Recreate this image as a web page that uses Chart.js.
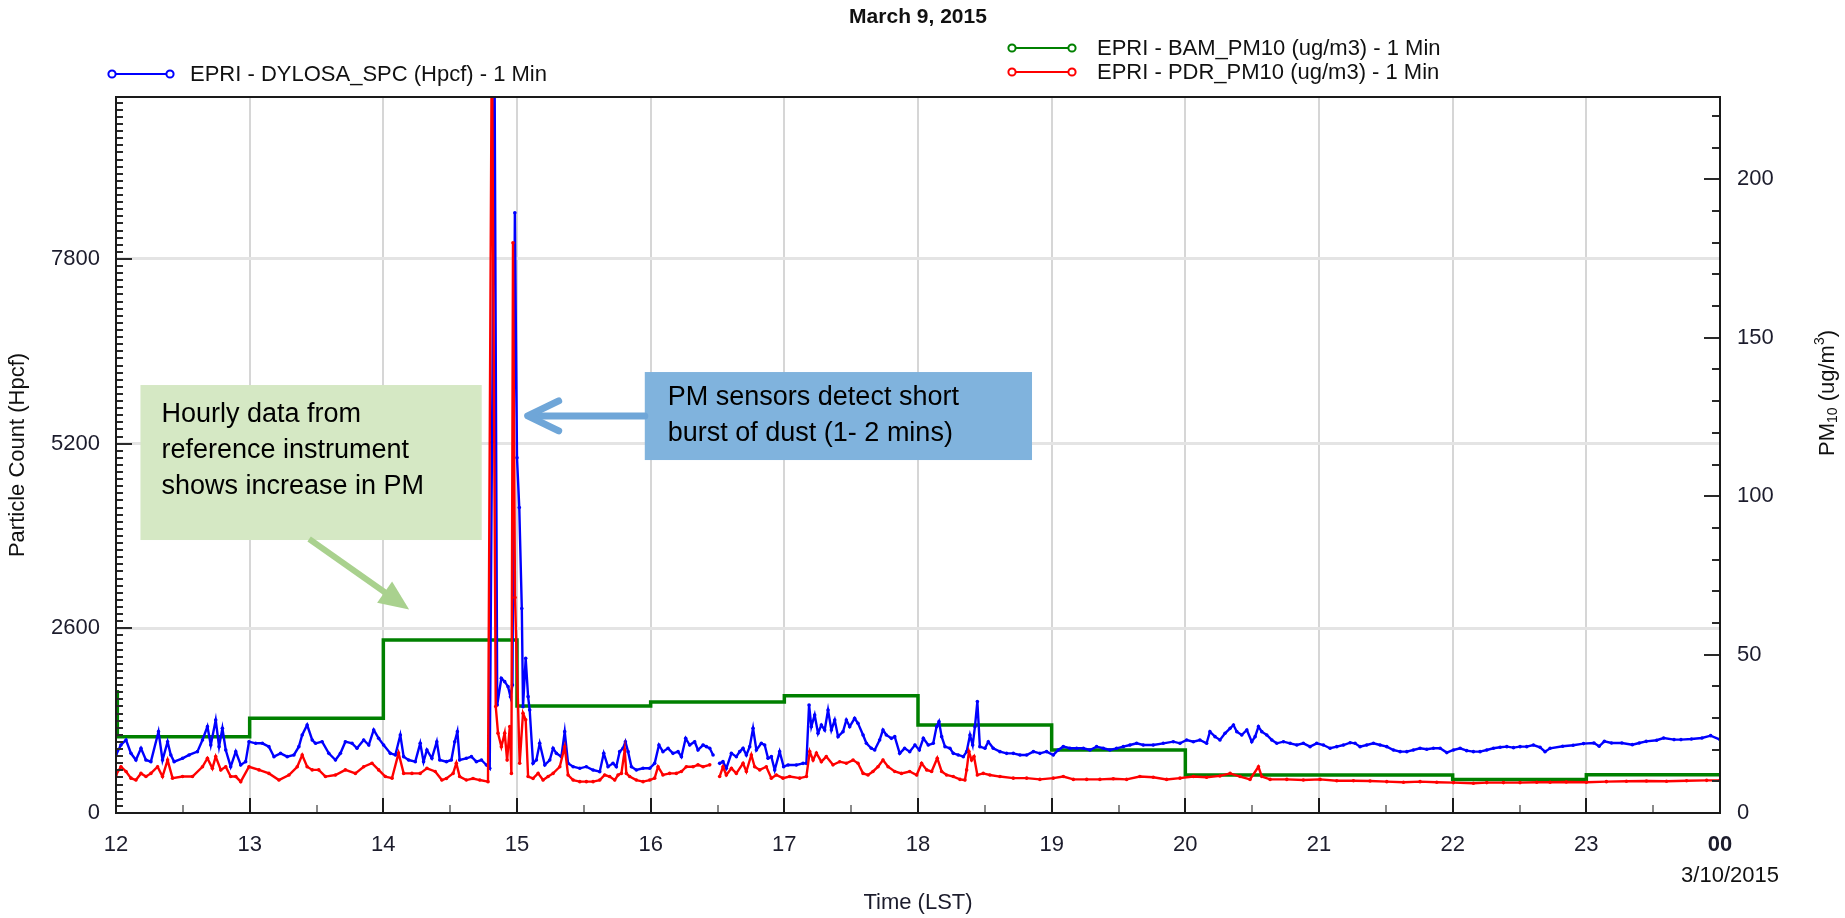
<!DOCTYPE html>
<html lang="en">
<head>
<meta charset="UTF-8">
<title>March 9, 2015 | EPRI PM sensors</title>
<script src="https://cdn.jsdelivr.net/npm/chart.js"></script>
<style>
    body { margin: 0; background: #fff; }
    #wrap { width: 1845px; height: 918px; }
</style>
</head>
<body>
<div id="wrap"><canvas id="pmChart" width="1845" height="918"></canvas></div>
<script>
const FONT = '"Liberation Sans", Arial, sans-serif';

// x axis: hours of the day (24 = midnight of 3/10)
const hourTicks = [12, 13, 14, 15, 16, 17, 18, 19, 20, 21, 22, 23, 24];
const hourLabels = ['12', '13', '14', '15', '16', '17', '18', '19', '20', '21', '22', '23', '00'];
const leftTicks = [0, 2600, 5200, 7800];
const rightTicks = [0, 50, 100, 150, 200];

// EPRI - DYLOSA_SPC (Hpcf), left axis
const dylosHours = [
    12.000, 12.037, 12.075, 12.112, 12.149, 12.187, 12.224, 12.261, 12.318, 12.348, 12.386, 12.410, 12.435, 12.498, 12.547, 12.609, 12.647, 12.684, 12.709, 12.746, 12.771, 12.796, 12.821, 12.858, 12.896, 12.933, 12.970, 12.995,
    13.045, 13.095, 13.144, 13.182, 13.231, 13.281, 13.331, 13.368, 13.393, 13.430, 13.468, 13.493, 13.542, 13.592, 13.642, 13.679, 13.716, 13.766, 13.803, 13.853, 13.891, 13.928, 13.965,
    14.002, 14.052, 14.090, 14.127, 14.152, 14.189, 14.239, 14.276, 14.301, 14.326, 14.363, 14.400, 14.422, 14.472, 14.509, 14.534, 14.554, 14.571, 14.621, 14.659, 14.696, 14.734, 14.771, 14.796, 14.813, 14.832, 14.852, 14.883, 14.908, 14.933, 14.951, 14.966, 14.984,
    15.000, 15.017, 15.036, 15.045, 15.065, 15.083, 15.095, 15.120, 15.145, 15.170, 15.208, 15.245, 15.270, 15.295, 15.332, 15.357, 15.382, 15.420, 15.470, 15.519, 15.569, 15.619, 15.649, 15.681, 15.718, 15.743, 15.768, 15.793, 15.811, 15.831, 15.856, 15.893, 15.943, 15.993,
    16.030, 16.062, 16.092, 16.130, 16.167, 16.205, 16.230, 16.262, 16.292, 16.329, 16.354, 16.392, 16.417, 16.442, 16.467, 16.490, 16.516, 16.541, 16.566, 16.604, 16.641, 16.666, 16.691, 16.716, 16.741, 16.766, 16.791, 16.828, 16.853, 16.878, 16.903, 16.928, 16.965, 16.995,
    17.028, 17.090, 17.140, 17.165, 17.185, 17.202, 17.227, 17.252, 17.277, 17.302, 17.327, 17.352, 17.377, 17.402, 17.439, 17.464, 17.489, 17.526, 17.551, 17.589, 17.614, 17.651, 17.676, 17.713, 17.738, 17.763, 17.801, 17.826, 17.863, 17.900, 17.938, 17.977,
    18.010, 18.040, 18.077, 18.114, 18.139, 18.157, 18.177, 18.202, 18.239, 18.264, 18.301, 18.339, 18.364, 18.389, 18.409, 18.426, 18.444, 18.463, 18.501, 18.526, 18.563, 18.613, 18.663, 18.713, 18.763, 18.813, 18.863, 18.912, 18.962,
    19.012, 19.049, 19.087, 19.137, 19.187, 19.237, 19.286, 19.336, 19.386, 19.436, 19.486, 19.536, 19.586, 19.636, 19.685, 19.760, 19.835, 19.910, 19.960,
    20.010, 20.060, 20.109, 20.159, 20.184, 20.222, 20.259, 20.297, 20.335, 20.360, 20.385, 20.422, 20.460, 20.497, 20.522, 20.547, 20.572, 20.609, 20.647, 20.684, 20.734, 20.784, 20.834, 20.883, 20.933, 20.983,
    21.033, 21.083, 21.133, 21.183, 21.233, 21.270, 21.307, 21.357, 21.407, 21.457, 21.507, 21.557, 21.607, 21.657, 21.706, 21.756, 21.806, 21.856, 21.906, 21.956,
    22.006, 22.056, 22.105, 22.155, 22.205, 22.255, 22.305, 22.355, 22.405, 22.455, 22.504, 22.554, 22.604, 22.654, 22.691, 22.729, 22.823, 22.901, 22.979,
    23.057, 23.096, 23.135, 23.188, 23.266, 23.344, 23.396, 23.448, 23.526, 23.578, 23.656, 23.708, 23.786, 23.865, 23.930, 24.000
];
const dylosHpcf = [
    817, 957, 1028, 840, 746, 911, 746, 723, 1145, 746, 1004, 817, 723, 770, 817, 864, 1028, 1216, 957, 1309, 934, 1192, 887, 652, 864, 676, 723, 1004,
    981, 981, 934, 793, 840, 793, 817, 934, 1098, 1239, 1028, 981, 1004, 840, 746, 840, 1004, 981, 911, 1028, 957, 1169, 1051,
    957, 840, 817, 1098, 793, 746, 723, 981, 723, 887, 770, 1004, 746, 723, 746, 1004, 1145, 746, 770, 793, 723, 746, 676, 629, 5220, 10600, 1521, 1896, 1849, 1779, 1638, 1802, 8450,
    5000, 4300, 2880, 1497, 2178, 1638, 1450, 699, 746, 981, 676, 746, 911, 840, 793, 1145, 699, 652, 629, 652, 605, 582, 840, 652, 699, 652, 864, 911, 1004, 864, 652, 605, 629, 629,
    699, 957, 864, 911, 840, 864, 793, 1051, 957, 1004, 887, 957, 934, 911, 817, null, 699, 723, 629, 840, 793, 864, 911, 817, 934, 1192, 887, 981, 957, 770, 793, 605, 864, 652,
    676, 676, 699, 699, 1521, 1216, 1380, 1122, 1239, 1169, 1450, 1169, 1309, 1075, 1145, 1309, 1216, 1333, 1263, 1098, 981, 911, 887, 1028, 1169, 1098, 1051, 1075, 840, 911, 864, 957,
    887, 1051, 957, 981, 1216, 1286, 1075, 934, 911, 840, 817, 793, 864, 1098, 957, 1216, 1568, 934, 911, 1004, 911, 864, 840, 840, 817, 817, 864, 840, 864,
    817, 887, 934, 911, 911, 911, 887, 934, 911, 887, 911, 934, 957, 981, 957, 957, 981, 1004, 981,
    1028, 1004, 1028, 981, 1145, 1075, 1028, 1122, 1192, 1239, 1145, 1098, 1169, 1004, 1075, 1216, 1145, 1098, 1028, 981, 1004, 981, 957, 981, 934, 981,
    957, 911, 934, 957, 990, 981, 934, 957, 981, 957, 934, 887, 864, 864, 887, 911, 897, 911, 911, 850,
    887, 911, 878, 864, 864, 887, 911, 925, 934, 920, 934, 934, 957, 925, 864, 911, 939, 953, 977,
    986, 939, 1009, 986, 986, 962, 986, 1009, 1024, 1056, 1033, 1033, 1042, 1056, 1089, 1033
];

// EPRI - PDR_PM10 (ug/m3), right axis
const pdrHours = [
    12.000, 12.037, 12.075, 12.112, 12.149, 12.187, 12.224, 12.261, 12.311, 12.348, 12.386, 12.423, 12.498, 12.572, 12.647, 12.684, 12.721, 12.746, 12.784, 12.821, 12.858, 12.896, 12.933, 12.995,
    13.070, 13.144, 13.219, 13.294, 13.356, 13.393, 13.430, 13.468, 13.517, 13.567, 13.642, 13.716, 13.791, 13.853, 13.915, 13.965,
    14.015, 14.065, 14.114, 14.152, 14.214, 14.276, 14.326, 14.388, 14.438, 14.472, 14.522, 14.546, 14.571, 14.621, 14.671, 14.721, 14.783, 14.812, 14.841, 14.858, 14.883, 14.908, 14.926, 14.946, 14.958, 14.970, 14.985,
    15.020, 15.045, 15.065, 15.083, 15.120, 15.158, 15.195, 15.233, 15.270, 15.320, 15.357, 15.382, 15.420, 15.470, 15.519, 15.569, 15.619, 15.656, 15.693, 15.731, 15.756, 15.781, 15.806, 15.818, 15.843, 15.893, 15.943, 15.993,
    16.030, 16.055, 16.092, 16.142, 16.192, 16.230, 16.267, 16.317, 16.354, 16.392, 16.442, 16.480, 16.516, 16.541, 16.566, 16.604, 16.641, 16.691, 16.716, 16.753, 16.778, 16.816, 16.865, 16.903, 16.940, 16.990,
    17.040, 17.115, 17.165, 17.190, 17.215, 17.240, 17.277, 17.314, 17.364, 17.414, 17.464, 17.514, 17.551, 17.589, 17.626, 17.663, 17.701, 17.738, 17.776, 17.826, 17.876, 17.938, 17.990,
    18.027, 18.065, 18.102, 18.144, 18.177, 18.214, 18.264, 18.314, 18.351, 18.364, 18.381, 18.401, 18.419, 18.444, 18.488, 18.538, 18.613, 18.713, 18.813, 18.912,
    19.012, 19.087, 19.162, 19.262, 19.361, 19.461, 19.561, 19.660, 19.760, 19.860, 19.960,
    20.060, 20.159, 20.259, 20.335, 20.410, 20.484, 20.547, 20.572, 20.634, 20.759, 20.883,
    21.008, 21.133, 21.258, 21.382, 21.507, 21.632, 21.756, 21.881,
    22.006, 22.155, 22.255, 22.380, 22.504, 22.629, 22.729, 22.850,
    23.000, 23.150, 23.300, 23.450, 23.600, 23.750, 23.900, 24.000
];
const pdrPM10 = [
    12.0, 14.6, 13.1, 11.0, 10.4, 12.5, 11.5, 12.5, 14.6, 11.5, 16.7, 11.0, 11.5, 11.5, 14.6, 17.3, 14.1, 17.8, 13.6, 14.6, 11.5, 11.5, 9.9, 14.6,
    13.6, 12.5, 10.4, 12.0, 14.6, 18.3, 14.6, 13.6, 13.6, 11.5, 12.0, 13.6, 12.5, 14.6, 15.7, 13.6,
    11.5, 11.0, 18.9, 12.5, 12.5, 12.5, 14.1, 13.1, 10.4, 10.9, 12.5, 15.7, 11.5, 10.4, 10.9, 10.4, 9.9, 250, 33.6, 25.2, 20.9, 25.2, 16.7, 27.3, 12.5, 180, 68,
    15.7, 31.5, 29.4, 11.5, 10.9, 12.5, 10.4, 11.5, 12.5, 14.6, 20.9, 12.0, 10.4, 9.9, 9.9, 9.9, 10.4, 12.0, 11.5, 10.4, 12.0, 12.5, 19.9, 12.5, 11.5, 10.4, 9.9, 10.4,
    11.0, 14.6, 12.0, 12.5, 12.5, 13.1, 14.6, 14.6, 15.2, 14.6, 15.2, null, 11.5, 14.6, 12.0, 14.1, 12.5, 15.7, 13.1, 18.3, 14.6, 13.6, 14.6, 11.0, 12.0, 11.0,
    11.5, 11.0, 11.5, 19.4, 16.7, 18.9, 16.2, 17.8, 15.2, 16.2, 15.7, 16.7, 15.7, 12.5, 12.0, 13.1, 14.6, 16.7, 14.6, 13.1, 12.5, 13.1, 12.0,
    15.7, 13.6, 13.1, 17.3, 13.1, 12.0, 11.5, 10.6, 10.4, 13.6, 19.4, 16.7, 17.8, 12.0, 12.5, 12.0, 11.5, 11.0, 11.0, 10.6,
    11.0, 11.5, 10.6, 10.6, 10.6, 10.8, 10.6, 11.5, 11.3, 10.6, 11.0,
    11.5, 11.3, 11.7, 12.5, 11.5, 10.6, 14.6, 11.5, 10.6, 10.6, 10.4,
    10.6, 10.2, 10.2, 10.1, 9.9, 9.7, 9.9, 9.7,
    9.6, 9.4, 9.6, 9.6, 9.6, 9.7, 9.7, 9.8,
    9.7, 9.9, 10.0, 10.1, 10.0, 10.2, 10.3, 10.3
];

// EPRI - BAM_PM10 (ug/m3), hourly reference, right axis
const bamHours = [12.0, 12.01, 13, 14, 15, 16, 17, 18, 19, 20, 21, 22, 23, 24];
const bamPM10 = [38.3, 24.1, 29.9, 54.6, 33.8, 35.0, 37.0, 27.8, 19.9, 12.0, 12.0, 10.6, 12.1, 12.1];

// callouts, placed in data units (hours, Hpcf)
const noteGreen = { x0: 12.183, x1: 14.736, top: 6025, bottom: 3843,
    lines: ['Hourly data from', 'reference instrument', 'shows increase in PM'],
    arrowFrom: [13.445, 3857], arrowTo: [14.193, 2865] };
const noteBlue = { x0: 15.956, x1: 18.853, top: 6208, bottom: 4969,
    lines: ['PM sensors detect short', 'burst of dust (1- 2 mins)'],
    arrowTo: [15.065, 5590] };

const leftMinorStep = 100, leftMajorStep = 2600;
const rightMinorStep = 10, rightMajorStep = 50;
const hourMinorStep = 0.5;

function pairs(xs, ys) {
    return xs.map((h, i) => ({ x: h, y: ys[i] }));
}

function line(ctx, x0, y0, x1, y1) {
    ctx.beginPath();
    ctx.moveTo(x0, y0);
    ctx.lineTo(x1, y1);
    ctx.stroke();
}

function legendKey(ctx, x0, x1, y, color) {
    ctx.strokeStyle = color;
    ctx.lineWidth = 2;
    line(ctx, x0 + 4, y, x1 - 4, y);
    [x0, x1].forEach(cx => {
        ctx.beginPath();
        ctx.arc(cx, y, 3.6, 0, Math.PI * 2);
        ctx.fillStyle = '#fff';
        ctx.fill();
        ctx.stroke();
    });
}

// frame and inward tick marks
const frame = {
    id: 'frame',
    afterDatasetsDraw(chart) {
        const { ctx, chartArea: a } = chart;
        const { x, y, y1 } = chart.scales;
        ctx.save();
        ctx.lineWidth = 2;
        ctx.strokeStyle = '#2a2a2a';
        for (let v = leftMinorStep; v < y.max; v += leftMinorStep) {
            const py = Math.round(y.getPixelForValue(v));
            line(ctx, a.left, py, a.left + (v % leftMajorStep === 0 ? 16 : 7), py);
        }
        for (let v = rightMinorStep; v < y1.max; v += rightMinorStep) {
            const py = Math.round(y1.getPixelForValue(v));
            line(ctx, a.right, py, a.right - (v % rightMajorStep === 0 ? 16 : 8), py);
        }
        for (let h = 12 + hourMinorStep; h < 24; h += hourMinorStep) {
            const px = Math.round(x.getPixelForValue(h));
            const major = Number.isInteger(h);
            ctx.strokeStyle = major ? '#1a1a1a' : '#8a8a8a';
            line(ctx, px, a.bottom, px, a.bottom - (major ? 15 : 8));
        }
        ctx.strokeStyle = '#1a1a1a';
        ctx.strokeRect(a.left, a.top, a.right - a.left, a.bottom - a.top);
        ctx.restore();
    }
};

// title, legend, right axis title, date and the two callouts
const extras = {
    id: 'extras',
    afterDraw(chart) {
        const { ctx, chartArea: a } = chart;
        const { x, y } = chart.scales;
        ctx.save();
        ctx.fillStyle = '#111';
        ctx.textBaseline = 'middle';

        ctx.textAlign = 'center';
        ctx.font = 'bold 21px ' + FONT;
        ctx.fillText('March 9, 2015', (a.left + a.right) / 2, 17);

        ctx.textAlign = 'left';
        ctx.font = '22px ' + FONT;
        const ds = chart.data.datasets;
        legendKey(ctx, 112, 170, 74, ds[0].borderColor);
        ctx.fillStyle = '#111';
        ctx.fillText(ds[0].label, 190, 75);
        legendKey(ctx, 1012, 1072, 48, ds[2].borderColor);
        legendKey(ctx, 1012, 1072, 72, ds[1].borderColor);
        ctx.fillStyle = '#111';
        ctx.fillText(ds[2].label, 1097, 49);
        ctx.fillText(ds[1].label, 1097, 73);

        // date under the last hour label
        ctx.textAlign = 'center';
        ctx.font = '22px ' + FONT;
        ctx.fillText('3/10/2015', x.getPixelForValue(24) + 10, 876);

        // right axis title with sub/superscript
        const parts = [['PM', 22, 0], ['10', 14, 5], [' (ug/m', 22, 0], ['3', 14, -8], [')', 22, 0]];
        let total = 0;
        parts.forEach(p => { ctx.font = p[1] + 'px ' + FONT; total += ctx.measureText(p[0]).width; });
        ctx.translate(1828, 393);
        ctx.rotate(-Math.PI / 2);
        ctx.textAlign = 'left';
        let cx = -total / 2;
        parts.forEach(p => {
            ctx.font = p[1] + 'px ' + FONT;
            ctx.fillText(p[0], cx, p[2]);
            cx += ctx.measureText(p[0]).width;
        });
        ctx.setTransform(1, 0, 0, 1, 0, 0);

        // green callout
        const g = noteGreen;
        const gx0 = x.getPixelForValue(g.x0), gx1 = x.getPixelForValue(g.x1);
        const gy0 = y.getPixelForValue(g.top), gy1 = y.getPixelForValue(g.bottom);
        ctx.fillStyle = '#d5e8c4';
        ctx.fillRect(gx0, gy0, gx1 - gx0, gy1 - gy0);
        ctx.fillStyle = '#000';
        ctx.font = '27px ' + FONT;
        ctx.textAlign = 'left';
        g.lines.forEach((t, i) => ctx.fillText(t, gx0 + 21, gy0 + 30 + i * 36));

        const ax0 = x.getPixelForValue(g.arrowFrom[0]), ay0 = y.getPixelForValue(g.arrowFrom[1]);
        const ax1 = x.getPixelForValue(g.arrowTo[0]), ay1 = y.getPixelForValue(g.arrowTo[1]);
        const ang = Math.atan2(ay1 - ay0, ax1 - ax0);
        ctx.strokeStyle = '#a9d18e';
        ctx.fillStyle = '#a9d18e';
        ctx.lineWidth = 6;
        line(ctx, ax0, ay0, ax1 - 22 * Math.cos(ang), ay1 - 22 * Math.sin(ang));
        ctx.beginPath();
        ctx.moveTo(ax1, ay1);
        ctx.lineTo(ax1 - 30 * Math.cos(ang) + 13 * Math.sin(ang), ay1 - 30 * Math.sin(ang) - 13 * Math.cos(ang));
        ctx.lineTo(ax1 - 30 * Math.cos(ang) - 13 * Math.sin(ang), ay1 - 30 * Math.sin(ang) + 13 * Math.cos(ang));
        ctx.closePath();
        ctx.fill();

        // blue callout
        const b = noteBlue;
        const bx0 = x.getPixelForValue(b.x0), bx1 = x.getPixelForValue(b.x1);
        const by0 = y.getPixelForValue(b.top), by1 = y.getPixelForValue(b.bottom);
        ctx.fillStyle = '#80b3dd';
        ctx.fillRect(bx0, by0, bx1 - bx0, by1 - by0);
        ctx.fillStyle = '#000';
        b.lines.forEach((t, i) => ctx.fillText(t, bx0 + 23, by0 + 26 + i * 36));

        const tx = x.getPixelForValue(b.arrowTo[0]), ty = y.getPixelForValue(b.arrowTo[1]);
        ctx.strokeStyle = '#6fa6d8';
        ctx.lineWidth = 7;
        ctx.lineCap = 'round';
        ctx.lineJoin = 'round';
        line(ctx, bx0, ty, tx + 4, ty);
        ctx.beginPath();
        ctx.moveTo(tx + 33, ty - 15);
        ctx.lineTo(tx + 2, ty);
        ctx.lineTo(tx + 33, ty + 15);
        ctx.stroke();
        ctx.restore();
    }
};

const tickFont = { family: FONT, size: 22 };

const ctx = document.getElementById('pmChart').getContext('2d');
const chart = new Chart(ctx, {
    type: 'line',
    data: {
        datasets: [
            {
                label: 'EPRI - DYLOSA_SPC (Hpcf) - 1 Min',
                data: pairs(dylosHours, dylosHpcf),
                yAxisID: 'y',
                borderColor: '#0000ff',
                backgroundColor: '#0000ff',
                borderWidth: 2.4,
                pointRadius: 1.8,
                pointBorderWidth: 0,
                spanGaps: false,
                order: 1
            },
            {
                label: 'EPRI - PDR_PM10 (ug/m3) - 1 Min',
                data: pairs(pdrHours, pdrPM10),
                yAxisID: 'y1',
                borderColor: '#ff0000',
                backgroundColor: '#ff0000',
                borderWidth: 2.4,
                pointRadius: 1.8,
                pointBorderWidth: 0,
                spanGaps: false,
                order: 0
            },
            {
                label: 'EPRI - BAM_PM10 (ug/m3) - 1 Min',
                data: pairs(bamHours, bamPM10),
                yAxisID: 'y1',
                borderColor: '#008000',
                backgroundColor: '#008000',
                borderWidth: 3.5,
                pointRadius: 0,
                stepped: true,
                order: 2
            }
        ]
    },
    options: {
        responsive: false,
        animation: false,
        devicePixelRatio: 1,
        layout: { padding: { top: 97, left: 0, right: 0, bottom: 0 } },
        plugins: { legend: { display: false }, title: { display: false }, tooltip: { enabled: false } },
        scales: {
            x: {
                type: 'linear',
                min: 12,
                max: 24,
                afterBuildTicks: s => { s.ticks = hourTicks.map(v => ({ value: v })); },
                afterFit: s => { s.height = 105; },
                ticks: {
                    autoSkip: false,
                    maxRotation: 0,
                    padding: 19,
                    color: '#1c1c2c',
                    font: c => ({ family: FONT, size: 22, weight: c.tick && c.tick.value === 24 ? 'bold' : 'normal' }),
                    callback: v => hourLabels[hourTicks.indexOf(v)]
                },
                grid: { color: '#d6d6d6', lineWidth: 2, drawTicks: false },
                border: { display: false },
                title: { display: true, text: 'Time (LST)', color: '#1c1c2c', font: tickFont, padding: { top: 0, bottom: 2 } }
            },
            y: {
                position: 'left',
                min: 0,
                max: 10080,
                afterBuildTicks: s => { s.ticks = leftTicks.map(v => ({ value: v })); },
                afterFit: s => { s.width = 116; },
                ticks: { padding: 16, color: '#1c1c2c', font: tickFont, callback: v => String(v) },
                grid: {
                    color: c => (c.tick && c.tick.value === 0 ? 'rgba(0,0,0,0)' : '#e4e4e4'),
                    lineWidth: 3,
                    drawTicks: false
                },
                border: { display: false },
                title: { display: true, text: 'Particle Count (Hpcf)', color: '#111', font: tickFont, padding: { top: 5, bottom: 0 } }
            },
            y1: {
                position: 'right',
                min: 0,
                max: 226,
                afterBuildTicks: s => { s.ticks = rightTicks.map(v => ({ value: v })); },
                afterFit: s => { s.width = 125; },
                ticks: { padding: 17, color: '#1c1c2c', font: tickFont, callback: v => String(v) },
                grid: { display: false, drawTicks: false },
                border: { display: false }
            }
        }
    },
    plugins: [frame, extras]
});
</script>
</body>
</html>
